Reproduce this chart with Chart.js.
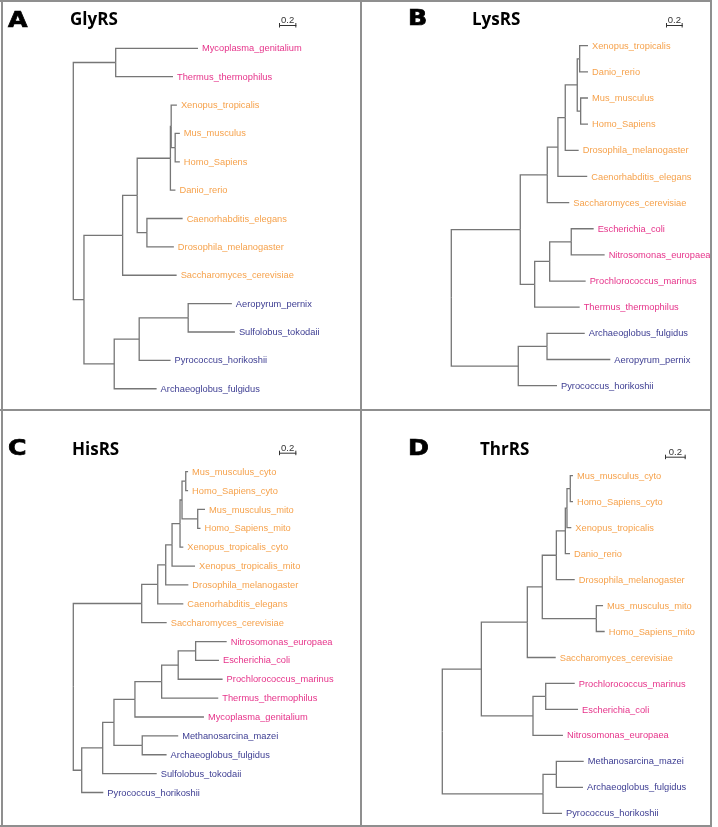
<!DOCTYPE html>
<html>
<head>
<meta charset="utf-8">
<script src="https://cdn.jsdelivr.net/npm/chart.js@4.4.1/dist/chart.umd.min.js"></script>
<style>
  html, body { margin: 0; padding: 0; background: #fff; }
  #fig { position: relative; width: 718px; height: 827px; overflow: hidden; }
  canvas { position: absolute; }
  .rule { position: absolute; background: #8f8f8f; }
  .letter { position: absolute; font: bold 21px "DejaVu Sans", sans-serif; line-height: 1; color: #000; -webkit-text-stroke: 0.7px #000; transform: scaleX(1.2); transform-origin: left top; }
  .title { position: absolute; font: bold 17px "Open Sans", sans-serif; line-height: 1; color: #000; }
</style>
</head>
<body>
<div id="fig"></div>
<script>
// --- DATA: trees in Newick form (branch lengths) ---
const glyRS = "((Mycoplasma_genitalium:0.949,Thermus_thermophilus:0.661):0.489,(((((Xenopus_tropicalis:0.066,(Mus_musculus:0.054,Homo_Sapiens:0.054):0.046):0.009,Danio_rerio:0.058):0.383,(Caenorhabditis_elegans:0.412,Drosophila_melanogaster:0.311):0.112):0.168,Saccharomyces_cerevisiae:0.623):0.446,(((Aeropyrum_pernix:0.504,Sulfolobus_tokodaii:0.539):0.565,Pyrococcus_horikoshii:0.362):0.288,Archaeoglobus_fulgidus:0.489):0.349):0.123);";

const lysRS = "(((((((Xenopus_tropicalis:0.1,Danio_rerio:0.1):0.029,(Mus_musculus:0.088,Homo_Sapiens:0.088):0.041):0.144,Drosophila_melanogaster:0.161):0.088,Caenorhabditis_elegans:0.352):0.128,Saccharomyces_cerevisiae:0.264):0.324,(((Escherichia_coli:0.269,Nitrosomonas_europaea:0.401):0.259,Prochlorococcus_marinus:0.432):0.18,Thermus_thermophilus:0.54):0.173):0.828,((Archaeoglobus_fulgidus:0.453,Aeropyrum_pernix:0.76):0.345,Pyrococcus_horikoshii:0.465):0.804);";

const hisRS = "((((((((Mus_musculus_cyto:0.027,Homo_Sapiens_cyto:0.027):0.043,(Mus_musculus_mito:0.084,Homo_Sapiens_mito:0.032):0.181):0.023,Xenopus_tropicalis_cyto:0.038):0.092,Xenopus_tropicalis_mito:0.265):0.073,Drosophila_melanogaster:0.261):0.092,Caenorhabditis_elegans:0.295):0.185,Saccharomyces_cerevisiae:0.288):0.789,(((((((Nitrosomonas_europaea:0.358,Escherichia_coli:0.269):0.201,Prochlorococcus_marinus:0.512):0.191,Thermus_thermophilus:0.653):0.308,Mycoplasma_genitalium:0.796):0.242,(Methanosarcina_mazei:0.415,Archaeoglobus_fulgidus:0.281):0.326):0.13,Sulfolobus_tokodaii:0.623):0.242,Pyrococcus_horikoshii:0.249):0.097);";

const thrRS = "((((((((Mus_musculus_cyto:0.026,Homo_Sapiens_cyto:0.026):0.032,Xenopus_tropicalis:0.042):0.016,Danio_rerio:0.045):0.087,Drosophila_melanogaster:0.178):0.136,(Mus_musculus_mito:0.065,Homo_Sapiens_mito:0.081):0.523):0.145,Saccharomyces_cerevisiae:0.275):0.445,((Prochlorococcus_marinus:0.281,Escherichia_coli:0.313):0.123,Nitrosomonas_europaea:0.29):0.5):0.378,((Methanosarcina_mazei:0.265,Archaeoglobus_fulgidus:0.258):0.129,Pyrococcus_horikoshii:0.184):0.975);";

// groups (genus) used for label colours; anything else is eukaryote
const bacteria = ['Mycoplasma', 'Thermus', 'Escherichia', 'Nitrosomonas', 'Prochlorococcus'];
const archaea  = ['Aeropyrum', 'Sulfolobus', 'Pyrococcus', 'Archaeoglobus', 'Methanosarcina'];
const scaleLen = 0.2;

const COL_EUK = '#f6a24c';
const COL_BAC = '#e6338a';
const COL_ARC = '#3d3d92';
const COL_LINE = '#767676';

// --- layout of the four panels (pixels) ---
const panels = [
    { letter: 'A', title: 'GlyRS', tree: glyRS, left: 0,   top: 0,   h: 410, rootX: 73.3, firstY: 48.3, step: 28.37, ppu: 86.7,  letterX: 8,  letterY: 9.5,  titleX: 70,  titleY: 10, barX: 279, barY: 25 },
    { letter: 'B', title: 'LysRS', tree: lysRS, left: 358, top: 0,   h: 410, rootX: 93.3, firstY: 45.7, step: 26.15, ppu: 83.3,  letterX: 50, letterY: 8,    titleX: 114, titleY: 10, barX: 308, barY: 25 },
    { letter: 'C', title: 'HisRS', tree: hisRS, left: 0,   top: 410, h: 417, rootX: 73.3, firstY: 61.7, step: 18.87, ppu: 86.7,  letterX: 8,  letterY: 27.5, titleX: 72,  titleY: 30, barX: 279, barY: 42.7 },
    { letter: 'D', title: 'ThrRS', tree: thrRS, left: 358, top: 410, h: 417, rootX: 84.3, firstY: 65.7, step: 25.97, ppu: 103.3, letterX: 50, letterY: 27.5, titleX: 122, titleY: 30, barX: 307, barY: 46.7 }
];
const PANEL_W = 360;

// --- NEWICK ---
function parseNewick(s) {
    let i = 0;
    function node() {
        const n = { children: [] };
        if (s[i] === '(') {
            i++;
            n.children.push(node());
            while (s[i] === ',') { i++; n.children.push(node()); }
            i++; // ')'
        }
        let name = '';
        while (i < s.length && !':,);'.includes(s[i])) name += s[i++];
        n.name = name;
        n.len = 0;
        if (s[i] === ':') {
            i++;
            let num = '';
            while (i < s.length && !',);'.includes(s[i])) num += s[i++];
            n.len = parseFloat(num);
        }
        return n;
    }
    return node();
}

function layoutTree(root) {
    const leaves = [];
    (function walk(n, depth) {
        n.depth = depth + n.len;
        if (!n.children.length) { n.y = leaves.length; leaves.push(n); return; }
        n.children.forEach(c => walk(c, n.depth));
        const ys = n.children.map(c => c.y);
        n.y = (Math.min(...ys) + Math.max(...ys)) / 2;
    })(root, -root.len);
    return leaves;
}

function colourFor(name) {
    const genus = name.split('_')[0];
    if (bacteria.includes(genus)) return COL_BAC;
    if (archaea.includes(genus)) return COL_ARC;
    return COL_EUK;
}

// --- plugins: tip labels + scale bar ---
const tipLabels = {
    id: 'tipLabels',
    afterDatasetsDraw(chart) {
        const { ctx, scales } = chart;
        const leaves = chart.options.plugins.tipLabels.leaves;
        ctx.save();
        ctx.font = '9.3px "Liberation Sans", Arial, sans-serif';
        ctx.textBaseline = 'middle';
        leaves.forEach(l => {
            ctx.fillStyle = colourFor(l.name);
            ctx.fillText(l.name, scales.x.getPixelForValue(l.depth) + 4, scales.y.getPixelForValue(l.y) + 0.5);
        });
        ctx.restore();
    }
};

const scaleBar = {
    id: 'scaleBar',
    afterDraw(chart) {
        const { ctx, scales } = chart;
        const o = chart.options.plugins.scaleBar;
        const w = scales.x.getPixelForValue(scaleLen) - scales.x.getPixelForValue(0);
        ctx.save();
        ctx.strokeStyle = '#333';
        ctx.lineWidth = 1;
        ctx.beginPath();
        ctx.moveTo(o.x, o.y + 0.5); ctx.lineTo(o.x + w, o.y + 0.5);
        ctx.moveTo(o.x + 0.5, o.y - 2); ctx.lineTo(o.x + 0.5, o.y + 2.5);
        ctx.moveTo(o.x + w - 0.5, o.y - 2); ctx.lineTo(o.x + w - 0.5, o.y + 2.5);
        ctx.stroke();
        ctx.fillStyle = '#333';
        ctx.font = '9.5px "Liberation Sans", Arial, sans-serif';
        ctx.textAlign = 'center';
        ctx.textBaseline = 'alphabetic';
        ctx.fillText(String(scaleLen), o.x + w / 2, o.y - 2);
        ctx.restore();
    }
};

// --- BUILD ---
const fig = document.getElementById('fig');

panels.forEach(p => {
    const root = parseNewick(p.tree);
    const leaves = layoutTree(root);

    const datasets = [];
    (function edges(n) {
        n.children.forEach(c => {
            datasets.push({
                data: [{ x: n.depth, y: n.y }, { x: n.depth, y: c.y }, { x: c.depth, y: c.y }],
                showLine: true,
                borderColor: COL_LINE,
                borderWidth: 1.3,
                pointRadius: 0,
                fill: false,
                tension: 0
            });
            edges(c);
        });
    })(root);

    const canvas = document.createElement('canvas');
    canvas.width = PANEL_W;
    canvas.height = p.h;
    canvas.style.left = p.left + 'px';
    canvas.style.top = p.top + 'px';
    fig.appendChild(canvas);

    new Chart(canvas.getContext('2d'), {
        type: 'scatter',
        data: { datasets },
        options: {
            responsive: false,
            animation: false,
            layout: { padding: 0 },
            scales: {
                x: { type: 'linear', display: false, min: -p.rootX / p.ppu, max: (PANEL_W - p.rootX) / p.ppu },
                y: { type: 'linear', display: false, reverse: true, min: -p.firstY / p.step, max: (p.h - p.firstY) / p.step }
            },
            plugins: {
                legend: { display: false },
                tooltip: { enabled: false },
                tipLabels: { leaves },
                scaleBar: { x: p.barX, y: p.barY }
            }
        },
        plugins: [tipLabels, scaleBar]
    });

    const letter = document.createElement('div');
    letter.className = 'letter';
    letter.textContent = p.letter;
    letter.style.left = (p.left + p.letterX) + 'px';
    letter.style.top = (p.top + p.letterY) + 'px';
    fig.appendChild(letter);

    const title = document.createElement('div');
    title.className = 'title';
    title.textContent = p.title;
    title.style.left = (p.left + p.titleX) + 'px';
    title.style.top = (p.top + p.titleY) + 'px';
    fig.appendChild(title);
});

// --- frame lines ---
[
    [1, 0, 2, 827], [360, 0, 2, 827], [710, 0, 2, 827],
    [0, 0, 712, 2], [0, 409, 712, 2], [0, 825, 712, 2]
].forEach(([x, y, w, h]) => {
    const d = document.createElement('div');
    d.className = 'rule';
    d.style.cssText = `left:${x}px;top:${y}px;width:${w}px;height:${h}px;`;
    fig.appendChild(d);
});
</script>
</body>
</html>
